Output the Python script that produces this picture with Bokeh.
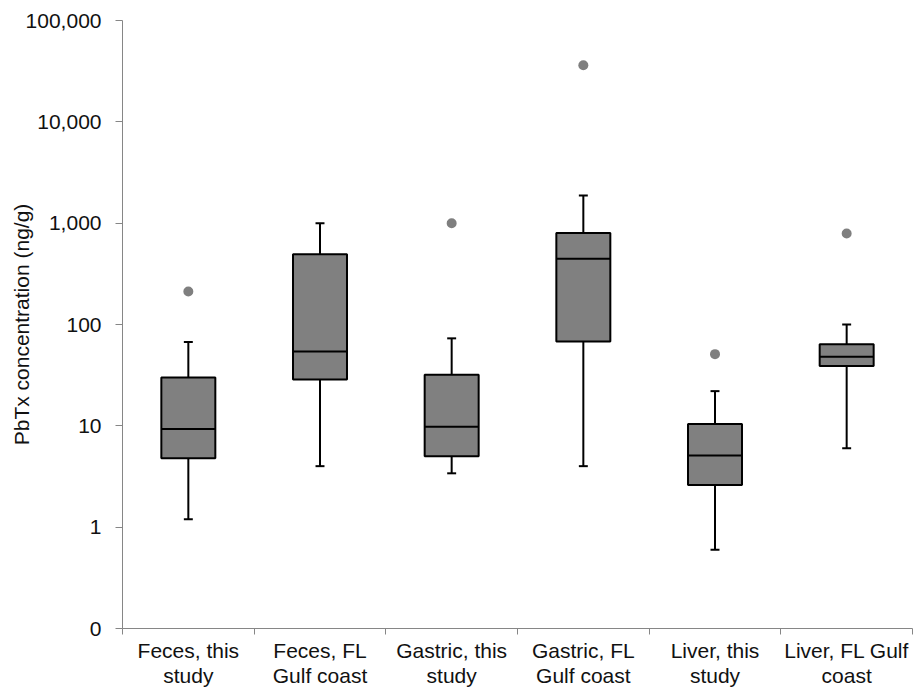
from bokeh.plotting import figure
from bokeh.models import ColumnDataSource, FixedTicker, NumeralTickFormatter, Range1d, CustomJSTickFormatter
from bokeh.embed import file_html
from bokeh.resources import INLINE

categories = ["Feces, this\nstudy", "Feces, FL\nGulf coast", "Gastric, this\nstudy",
              "Gastric, FL\nGulf coast", "Liver, this\nstudy", "Liver, FL Gulf\ncoast"]
whisker_low = [1.2, 4.0, 3.4, 4.0, 0.6, 6.0]
q1 = [4.8, 28.7, 5.0, 68, 2.6, 39]
median = [9.3, 54, 9.8, 445, 5.1, 48]
q3 = [30, 494, 32, 800, 10.4, 64]
whisker_high = [67, 1000, 73, 1880, 22, 100]
outlier_cat = [0, 2, 3, 4, 5]
outlier_val = [212, 1000, 36200, 51, 790]
y_ticks = [0.1, 1, 10, 100, 1000, 10000, 100000]

FONT = "Liberation Sans"
AXIS_COLOR = "#868686"
TEXT_COLOR = "#111111"
BOX_W = 0.41
CAP = 0.034

xs = [i + 0.5 for i in range(len(categories))]
src = ColumnDataSource(dict(
    x=xs, x0=[x - CAP for x in xs], x1=[x + CAP for x in xs],
    mx0=[x - BOX_W / 2 for x in xs], mx1=[x + BOX_W / 2 for x in xs],
    lo=whisker_low, q1=q1, med=median, q3=q3, hi=whisker_high))
osrc = ColumnDataSource(dict(x=[xs[i] for i in outlier_cat], y=outlier_val))

p = figure(width=916, height=690, y_axis_type="log",
           x_range=Range1d(0, len(categories)), y_range=Range1d(0.1, 100000),
           output_backend="svg", toolbar_location=None,
           min_border_left=122, min_border_right=4, min_border_top=20, min_border_bottom=59)
p.outline_line_color = None
p.grid.visible = False
p.background_fill_color = "white"

# whiskers
p.segment(x0="x", y0="lo", x1="x", y1="hi", source=src, line_color="black", line_width=2)
p.segment(x0="x0", y0="lo", x1="x1", y1="lo", source=src, line_color="black", line_width=2)
p.segment(x0="x0", y0="hi", x1="x1", y1="hi", source=src, line_color="black", line_width=2)
# boxes
p.vbar(x="x", width=BOX_W, bottom="q1", top="q3", source=src,
       fill_color="#808080", line_color="black", line_width=2)
# medians
p.segment(x0="mx0", y0="med", x1="mx1", y1="med", source=src, line_color="black", line_width=2)
# outliers
p.scatter(x="x", y="y", source=osrc, size=10, fill_color="#7f7f7f", line_color=None)

# x axis: tick marks at category boundaries, labels centred in each category
xa = p.xaxis[0]
xa.ticker = FixedTicker(ticks=xs, minor_ticks=list(range(len(categories) + 1)))
xa.formatter = CustomJSTickFormatter(args=dict(labels=categories),
                                     code="const i = Math.round(tick - 0.5); return labels[i] || '';")
xa.major_tick_line_color = None
xa.major_tick_out = 6
xa.major_tick_in = 0
xa.minor_tick_out = 6
xa.minor_tick_in = 0
xa.minor_tick_line_color = AXIS_COLOR
xa.axis_line_color = AXIS_COLOR
xa.major_label_text_font = FONT
xa.major_label_text_font_size = "21px"
xa.major_label_text_color = TEXT_COLOR
xa.major_label_standoff = 4
xa.major_label_text_line_height = 1.12

# y axis
ya = p.yaxis[0]
ya.ticker = FixedTicker(ticks=y_ticks)
ya.formatter = NumeralTickFormatter(format="0,0")
ya.major_tick_out = 7
ya.major_tick_in = 0
ya.minor_tick_line_color = None
ya.major_tick_line_color = AXIS_COLOR
ya.axis_line_color = AXIS_COLOR
ya.major_label_text_font = FONT
ya.major_label_text_font_size = "21px"
ya.major_label_text_color = TEXT_COLOR
ya.major_label_standoff = 14
ya.axis_label = "PbTx concentration (ng/g)"
ya.axis_label_text_font = FONT
ya.axis_label_text_font_size = "21px"
ya.axis_label_text_font_style = "normal"
ya.axis_label_text_color = TEXT_COLOR
ya.axis_label_standoff = -10

open("out.html", "w").write(file_html(p, INLINE))
